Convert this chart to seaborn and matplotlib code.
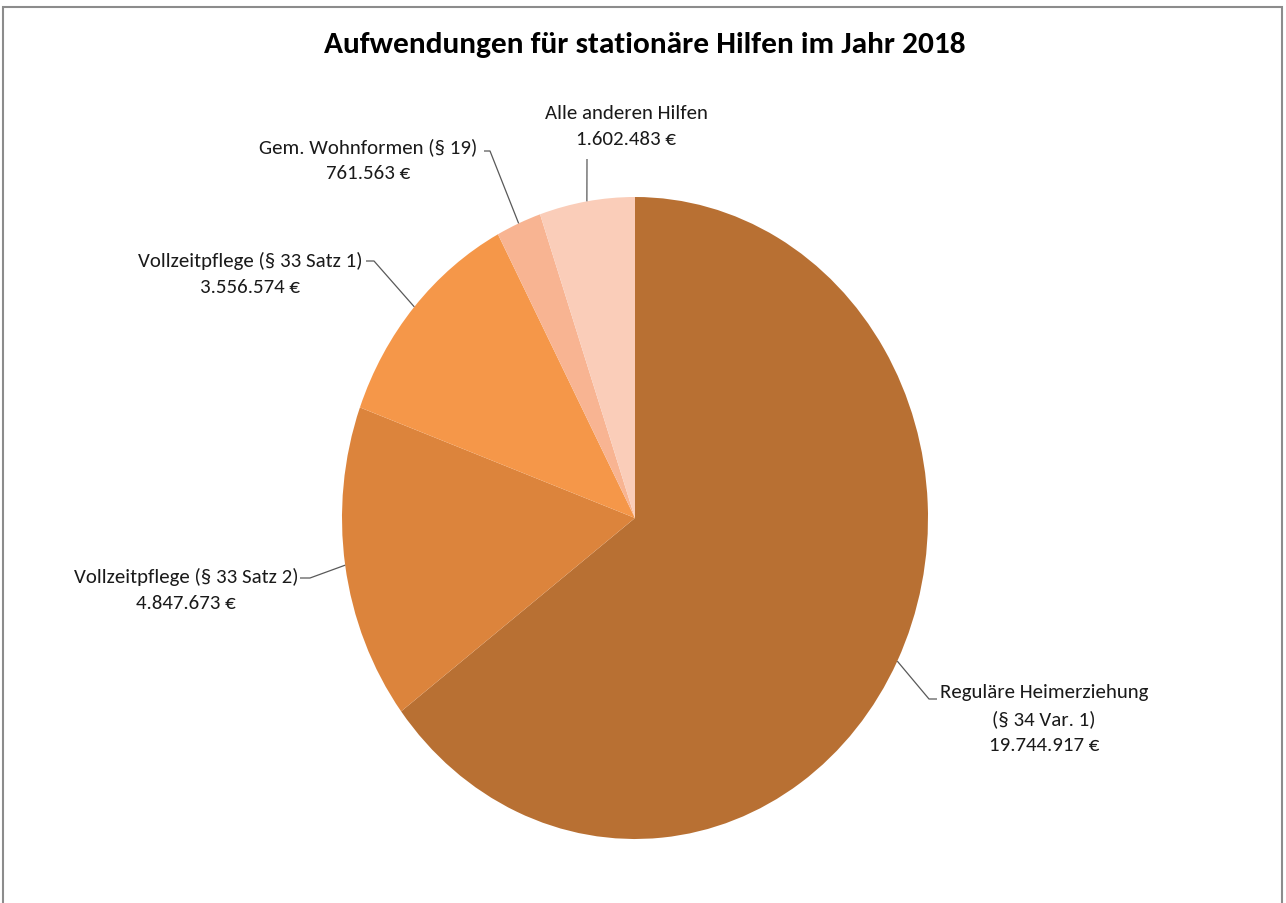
import numpy as np
import matplotlib
matplotlib.use("Agg")
import matplotlib.pyplot as plt
from matplotlib.patches import Rectangle
from matplotlib import font_manager as fm
import seaborn as sns

# ---- data ----
categories = ["Reguläre Heimerziehung\n(§ 34 Var. 1)", "Vollzeitpflege (§ 33 Satz 2)",
              "Vollzeitpflege (§ 33 Satz 1)", "Gem. Wohnformen (§ 19)", "Alle anderen Hilfen"]
values = [19744917, 4847673, 3556574, 761563, 1602483]
value_labels = ["19.744.917 €", "4.847.673 €", "3.556.574 €", "761.563 €", "1.602.483 €"]
colors = ["#B87033", "#DC843C", "#F59749", "#F8B492", "#FACDB9"]
title = "Aufwendungen für stationäre Hilfen im Jahr 2018"

sns.set_theme(style="white")
available = {f.name for f in fm.fontManager.ttflist}
preferred = ['Carlito', 'Liberation Sans Narrow', 'Roboto Condensed', 'Open Sans Condensed',
             'PT Sans Narrow', 'Noto Sans']
fam = next((p for p in preferred if p in available), 'DejaVu Sans')
plt.rcParams['font.family'] = [fam, 'DejaVu Sans']

W, H = 1286, 904
fig = plt.figure(figsize=(W / 100, H / 100), dpi=100)
ax = fig.add_axes([0, 0, 1, 1])

# pixel geometry of the (slightly stretched) pie
CX, CY, RX, RY = 635, 519, 293, 321

def px(x, y):
    return (x - CX) / RX, (CY - y) / RY

wedges, _ = ax.pie(values, colors=colors, startangle=90, counterclock=False,
                   radius=1, center=(0, 0), frame=True,
                   wedgeprops=dict(linewidth=0))
ax.set_xlim((0 - CX) / RX, (W - CX) / RX)
ax.set_ylim((CY - H) / RY, (CY - 0) / RY)
ax.set_aspect('auto')
ax.axis('off')

# label layout: text center px, first line y px, elbow px, text-side end px
layout = [
    dict(tx=1044, ty=693, elbow=(929, 700), end=(937, 700)),
    dict(tx=186, ty=577, elbow=(310, 579), end=(300, 579)),
    dict(tx=250, ty=261, elbow=(374, 262), end=(366, 262)),
    dict(tx=368, ty=147, elbow=(490, 152), end=(484, 152)),
    dict(tx=626, ty=113, elbow=None, end=(587, 160)),
]
txtcol = "#1a1a1a"
lh = 26.5
for w, cat, vl, lay in zip(wedges, categories, value_labels, layout):
    ang = np.deg2rad((w.theta1 + w.theta2) / 2)
    ax_, ay_ = np.cos(ang), np.sin(ang)
    lines = cat.split("\n") + [vl]
    for i, ln in enumerate(lines):
        x, y = px(lay['tx'], lay['ty'] + i * lh)
        ax.text(x, y, ln, ha='center', va='center', fontsize=15, color=txtcol)
    pts = [(ax_, ay_)]
    if lay['elbow'] is not None:
        pts.append(px(*lay['elbow']))
    pts.append(px(*lay['end']))
    xs, ys = zip(*pts)
    ax.plot(xs, ys, color="#595959", lw=0.9, solid_capstyle='butt')

fig.text(645 / W, 1 - 45 / H, title, ha='center', va='center',
         fontsize=22.6, fontweight='bold', color='black')

fig.add_artist(Rectangle((3 / W, -0.05), (1282 - 3) / W, 1.05 - 8 / H,
                         transform=fig.transFigure, fill=False,
                         edgecolor="#8c8c8c", lw=1.5))

fig.savefig("out.png", dpi=100)
